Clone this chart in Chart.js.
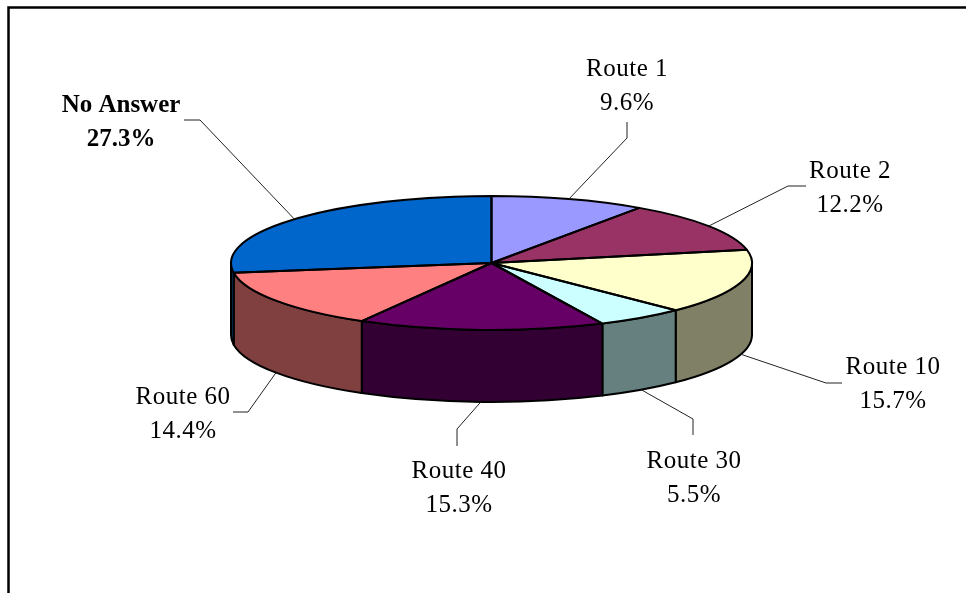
<!DOCTYPE html>
<html>
<head>
<meta charset="utf-8">
<script src="https://cdn.jsdelivr.net/npm/chart.js@4/dist/chart.umd.min.js"></script>
<style>
  html, body { margin: 0; padding: 0; background: #fff; }
  #wrap { width: 966px; height: 593px; }
</style>
</head>
<body>
<div id="wrap"><canvas id="pie" width="966" height="593"></canvas></div>
<script>
// data (percent of answers, clockwise from 12 o'clock)
const routes = ['Route 1', 'Route 2', 'Route 10', 'Route 30', 'Route 40', 'Route 60', 'No Answer'];
const shares = [9.6, 12.2, 15.7, 5.5, 15.3, 14.4, 27.3];

const topColors = ['#9999FF', '#993366', '#FFFFCC', '#CCFFFF', '#660066', '#FF8080', '#0066CC'];
const sideColors = ['#4D4D80', '#4D1A33', '#808066', '#668080', '#330033', '#804040', '#003366'];

// where each label sits: text centre, first baseline, leader start + elbow
const labelLayout = [
    { x: 627, y: 76,  bold: false, leader: [[627, 122], [627, 138]] },
    { x: 850, y: 178, bold: false, leader: [[806, 186], [788, 186]] },
    { x: 893, y: 374, bold: false, leader: [[842, 383], [826, 383]] },
    { x: 694, y: 468, bold: false, leader: [[693, 435], [693, 419]] },
    { x: 459, y: 478, bold: false, leader: [[457, 446], [457, 429]] },
    { x: 183, y: 404, bold: false, leader: [[233, 412], [248, 412]] },
    { x: 121, y: 112, bold: true,  leader: [[184, 120], [200, 120]] }
];

const tilt = 0.257;   // ry / rx of the top face
const depth = 72;     // height of the side wall

function geom(chart) {
    const a = chart.getDatasetMeta(0).data[0];
    return { cx: a.x, cy: a.y, rx: a.outerRadius, ry: a.outerRadius * tilt };
}

const pie3d = {
    id: 'pie3d',
    beforeDraw(chart) {
        const ctx = chart.ctx;
        ctx.save();
        ctx.strokeStyle = '#000';
        ctx.lineWidth = 2.5;
        ctx.beginPath();
        ctx.moveTo(8.5, 600);
        ctx.lineTo(8.5, 7.5);
        ctx.lineTo(970, 7.5);
        ctx.stroke();
        ctx.restore();
    },
    beforeDatasetsDraw(chart) {
        const ctx = chart.ctx;
        const g = geom(chart);
        const arcs = chart.getDatasetMeta(0).data;
        ctx.save();
        ctx.lineWidth = 2;
        ctx.strokeStyle = '#000';
        ctx.lineJoin = 'round';
        arcs.forEach((arc, i) => {
            const a1 = Math.max(arc.startAngle, 0);
            const a2 = Math.min(arc.endAngle, Math.PI);
            if (a1 >= a2) return;
            ctx.beginPath();
            ctx.ellipse(g.cx, g.cy, g.rx, g.ry, 0, a1, a2);
            ctx.lineTo(g.cx + g.rx * Math.cos(a2), g.cy + depth + g.ry * Math.sin(a2));
            ctx.ellipse(g.cx, g.cy + depth, g.rx, g.ry, 0, a2, a1, true);
            ctx.closePath();
            ctx.fillStyle = sideColors[i];
            ctx.fill();
            ctx.stroke();
        });
        ctx.restore();
        // squash the flat pie into the top face
        ctx.save();
        ctx.translate(0, g.cy);
        ctx.scale(1, tilt);
        ctx.translate(0, -g.cy);
    },
    afterDatasetsDraw(chart) {
        const ctx = chart.ctx;
        ctx.restore();
        const g = geom(chart);
        const arcs = chart.getDatasetMeta(0).data;
        ctx.save();
        ctx.lineWidth = 2;
        ctx.strokeStyle = '#000';
        ctx.lineJoin = 'round';
        arcs.forEach(arc => {
            ctx.beginPath();
            ctx.moveTo(g.cx, g.cy);
            ctx.ellipse(g.cx, g.cy, g.rx, g.ry, 0, arc.startAngle, arc.endAngle);
            ctx.closePath();
            ctx.stroke();
        });

        // labels with leader lines
        ctx.lineWidth = 1;
        ctx.strokeStyle = '#222';
        ctx.fillStyle = '#000';
        ctx.textAlign = 'center';
        ctx.textBaseline = 'alphabetic';
        arcs.forEach((arc, i) => {
            const L = labelLayout[i];
            const m = (arc.startAngle + arc.endAngle) / 2;
            const front = Math.sin(m) > 0;
            const ex = g.cx + g.rx * Math.cos(m);
            const ey = g.cy + g.ry * Math.sin(m) + (front ? depth : 0);
            ctx.beginPath();
            ctx.moveTo(L.leader[0][0], L.leader[0][1]);
            ctx.lineTo(L.leader[1][0], L.leader[1][1]);
            ctx.lineTo(ex, ey);
            ctx.stroke();

            ctx.font = (L.bold ? 'bold ' : '') + '25px "Liberation Serif", "Times New Roman", serif';
            ctx.letterSpacing = L.bold ? '0px' : '0.5px';
            ctx.fillText(routes[i], L.x, L.y);
            ctx.fillText(shares[i].toFixed(1) + '%', L.x, L.y + 34);
        });
        ctx.restore();
    }
};

new Chart(document.getElementById('pie'), {
    type: 'pie',
    data: {
        labels: routes,
        datasets: [{
            data: shares,
            backgroundColor: topColors,
            borderWidth: 0,
            hoverOffset: 0,
            offset: 0,
            clip: false
        }]
    },
    options: {
        responsive: false,
        animation: false,
        events: [],
        layout: { padding: { left: 231, right: 214, top: 0, bottom: 67 } },
        plugins: { legend: { display: false }, tooltip: { enabled: false } }
    },
    plugins: [pie3d]
});
</script>
</body>
</html>
